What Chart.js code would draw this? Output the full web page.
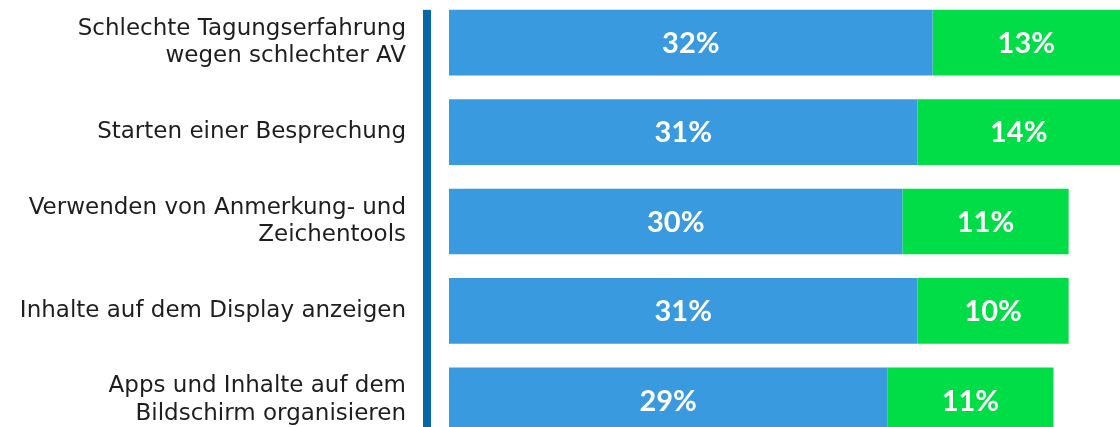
<!DOCTYPE html>
<html>
<head>
<meta charset="utf-8">
<script src="https://cdn.jsdelivr.net/npm/chart.js@4.4.0/dist/chart.umd.min.js"></script>
<style>
    html, body { margin: 0; padding: 0; background: #fff; overflow: hidden; }
    #wrap { position: absolute; left: 0; top: -2px; width: 1120px; height: 447px; }
</style>
</head>
<body>
<div id="wrap"><canvas id="barChart"></canvas></div>
<script>
// Chart data
const categories = [
    ['Schlechte Tagungserfahrung', 'wegen schlechter AV'],
    'Starten einer Besprechung',
    ['Verwenden von Anmerkung- und', 'Zeichentools'],
    'Inhalte auf dem Display anzeigen',
    ['Apps und Inhalte auf dem', 'Bildschirm organisieren']
];
const blueValues = [32, 31, 30, 31, 29];
const greenValues = [13, 14, 11, 10, 11];
const axisMax = 44.4;

const blue = 'rgb(58, 154, 224)';
const green = 'rgb(0, 221, 70)';
const axisBlue = 'rgb(6, 104, 166)';

// Vertical axis bar drawn just left of the bars
const axisLinePlugin = {
    id: 'axisLine',
    beforeDatasetsDraw(chart) {
        const area = chart.chartArea;
        const bar = chart.getDatasetMeta(0).data[0];
        const top = bar.y - bar.height / 2;
        const ctx = chart.ctx;
        ctx.save();
        ctx.fillStyle = axisBlue;
        ctx.fillRect(area.left - 26, top, 8, chart.height - top);
        ctx.restore();
    }
};

// Percent labels centred on the visible part of each bar
const valueLabelPlugin = {
    id: 'valueLabels',
    afterDatasetsDraw(chart) {
        const area = chart.chartArea;
        const ctx = chart.ctx;
        ctx.save();
        ctx.fillStyle = '#fff';
        ctx.font = 'bold 29px Lato';
        ctx.textAlign = 'center';
        ctx.textBaseline = 'middle';
        chart.data.datasets.forEach((ds, i) => {
            chart.getDatasetMeta(i).data.forEach((bar, j) => {
                const x1 = Math.max(Math.min(bar.x, bar.base), area.left);
                const x2 = Math.min(Math.max(bar.x, bar.base), area.right);
                ctx.fillText(ds.data[j] + '%', (x1 + x2) / 2, bar.y + 1);
            });
        });
        ctx.restore();
    }
};

document.addEventListener('DOMContentLoaded', function() {
    const ctx = document.getElementById('barChart').getContext('2d');
    new Chart(ctx, {
        type: 'bar',
        data: {
            labels: categories,
            datasets: [{
                data: blueValues,
                backgroundColor: blue,
                barPercentage: 0.735,
                categoryPercentage: 1
            }, {
                data: greenValues,
                backgroundColor: green,
                barPercentage: 0.735,
                categoryPercentage: 1
            }]
        },
        options: {
            indexAxis: 'y',
            responsive: true,
            maintainAspectRatio: false,
            animation: false,
            layout: { padding: 0 },
            scales: {
                x: {
                    stacked: true,
                    min: 0,
                    max: axisMax,
                    display: false
                },
                y: {
                    stacked: true,
                    grid: { display: false, drawTicks: false },
                    border: { display: false },
                    ticks: {
                        color: '#1e1e1e',
                        padding: 43,
                        font: { family: 'DejaVu Sans', size: 23, lineHeight: 1.2 }
                    },
                    afterFit: function(scale) {
                        // fixed label column; no extra vertical padding
                        scale.width = 449;
                        scale.paddingTop = 0;
                        scale.paddingBottom = 0;
                    }
                }
            },
            plugins: {
                legend: { display: false },
                tooltip: { enabled: false }
            }
        },
        plugins: [axisLinePlugin, valueLabelPlugin]
    });
});
</script>
</body>
</html>
